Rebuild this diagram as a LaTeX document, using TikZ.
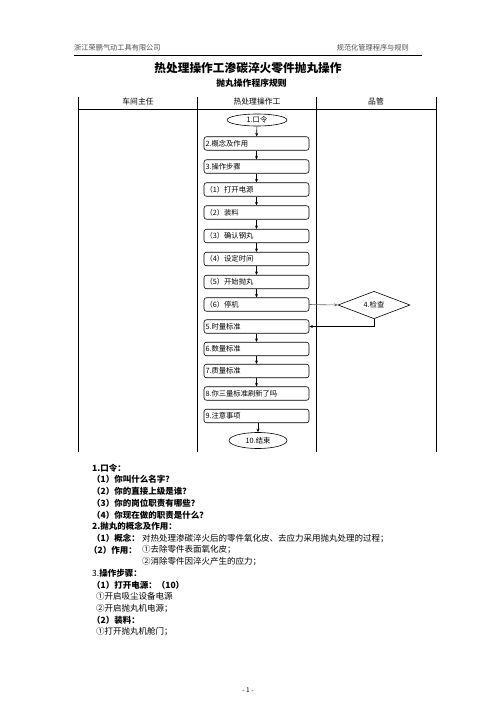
\documentclass[tikz,border=0pt]{standalone}
\usepackage{fontspec}
\setmainfont{Noto Sans CJK SC}
\usetikzlibrary{shapes.geometric,arrows.meta}
\newcommand\fsz[1]{\fontsize{#1pt}{#1pt}\selectfont}
\begin{document}
\begin{tikzpicture}[x=1pt,y=-1pt,
  flowbox/.style={draw, line width=0.6pt, rounded corners=2.5pt, minimum width=105pt, minimum height=13.5pt, text width=102pt, align=left, inner xsep=1.5pt, inner ysep=0pt, font=\fsz{7.3}},
  ovalbox/.style={draw, line width=0.6pt, ellipse, minimum width=60pt, minimum height=12pt, inner sep=0pt, font=\fsz{7.3}},
  arr/.style={-{Stealth[length=3.5pt,width=3pt]}, line width=0.6pt},
  body/.style={anchor=west, inner sep=0pt, font=\fsz{8.5}},
  bbody/.style={anchor=west, inner sep=0pt, font=\fsz{8.5}\bfseries},
  hdr/.style={inner sep=0pt, font=\fsz{7.2}, text=black!70},
  colhead/.style={inner sep=0pt, font=\fsz{7.8}},
  rule/.style={line width=0.9pt}]
\fill[white] (0,0) rectangle (496,702);
\useasboundingbox (0,0) rectangle (496,702);

% page header
\node[hdr, anchor=west] (hl) at (74,47.5) {浙江荣鹏气动工具有限公司};
\node[hdr, anchor=east] (hr) at (409,47.5) {规范化管理程序与规则};
\draw[line width=0.8pt] (74,55) -- (422,55);

% titles
\node[inner sep=0pt, font=\fsz{11.7}\bfseries] (title) at (248,68) {热处理操作工渗碳淬火零件抛丸操作};
\node[inner sep=0pt, font=\fsz{8.8}\bfseries] (sub) at (251.5,83) {抛丸操作程序规则};

% table
\draw[rule] (78,97) -- (78,452);
\draw[rule] (197.5,97) -- (197.5,452);
\draw[rule] (316.5,97) -- (316.5,452);
\draw[rule] (436,97) -- (436,452);
\draw[rule] (78,109) -- (436,109);
\node[colhead] (c1) at (138,102) {车间主任};
\node[colhead] (c2) at (257,102) {热处理操作工};
\node[colhead] (c3) at (376,102) {品管};

% flow
\node[ovalbox] (n1) at (257,120) {1.口令};
\node[flowbox] (n2) at (256.5,143.5) {2.概念及作用};
\node[flowbox] (n3) at (256.5,166.5) {3.操作步骤};
\node[flowbox] (s1) at (256.5,189.5) {（1）打开电源};
\node[flowbox] (s2) at (256.5,212.5) {（2）装料};
\node[flowbox] (s3) at (256.5,236) {（3）确认钢丸};
\node[flowbox] (s4) at (256.5,259) {（4）设定时间};
\node[flowbox] (s5) at (256.5,282) {（5）开始抛丸};
\node[flowbox] (s6) at (256.5,304.5) {（6）停机};
\node[flowbox] (n5) at (256.5,326.5) {5.时量标准};
\node[flowbox] (n6) at (256.5,349) {6.数量标准};
\node[flowbox] (n7) at (256.5,371) {7.质量标准};
\node[flowbox] (n8) at (256.5,393.5) {8.你三量标准刷新了吗};
\node[flowbox] (n9) at (256.5,416) {9.注意事项};
\node[ovalbox, minimum width=58pt, minimum height=16pt] (n10) at (258,440.5) {10.结束};
\node[draw, line width=0.6pt, diamond, minimum width=72pt, minimum height=26pt, inner sep=0pt, font=\fsz{7.3}] (chk) at (374,305) {4.检查};

\draw[arr] (n1) -- (n2);
\draw[arr] (n2) -- (n3);
\draw[arr] (n3) -- (s1);
\draw[arr] (s1) -- (s2);
\draw[arr] (s2) -- (s3);
\draw[arr] (s3) -- (s4);
\draw[arr] (s4) -- (s5);
\draw[arr] (s5) -- (s6);
\draw[arr] (n5) -- (n6);
\draw[arr] (n6) -- (n7);
\draw[arr] (n7) -- (n8);
\draw[arr] (n9.south -| n10) -- (n10);
\draw[arr, black!60] (s6.east) -- (chk.west);
\draw[arr] (chk.south) |- (n5.east);

% body text
\node[bbody] (b1) at (92,468) {1.口令：};
\node[bbody] (b2) at (92,479.7) {（1）你叫什么名字？};
\node[bbody] (b3) at (92,491.4) {（2）你的直接上级是谁？};
\node[bbody] (b4) at (92,503.1) {（3）你的岗位职责有哪些？};
\node[bbody] (b5) at (92,514.8) {（4）你现在做的职责是什么？};
\node[bbody] (b6) at (92,526.5) {2.抛丸的概念及作用：};
\node[bbody] (b7) at (92,538.2) {（1）概念：};
\node[body] (b7t) at (142,538.2) {对热处理渗碳淬火后的零件氧化皮、去应力采用抛丸处理的过程；};
\node[bbody] (b8) at (89,549.9) {（2）作用：};
\node[body] (b8t) at (142,549.9) {①去除零件表面氧化皮；};
\node[body] (b9t) at (142,561.6) {②消除零件因淬火产生的应力；};
\node[body] (b10) at (92,573.3) {3.\textbf{操作步骤：}};
\node[bbody] (b11) at (92,585) {（1）打开电源：（10）};
\node[body] (b12) at (96,596.7) {①开启吸尘设备电源};
\node[body] (b13) at (96,608.4) {②开启抛丸机电源；};
\node[bbody] (b14) at (92,620.1) {（2）装料：};
\node[body] (b15) at (96,631.8) {①打开抛丸机舱门；};

\node[inner sep=0pt, font=\fsz{6.5}] (pg) at (248,690) {- 1 -};
\end{tikzpicture}
\end{document}
